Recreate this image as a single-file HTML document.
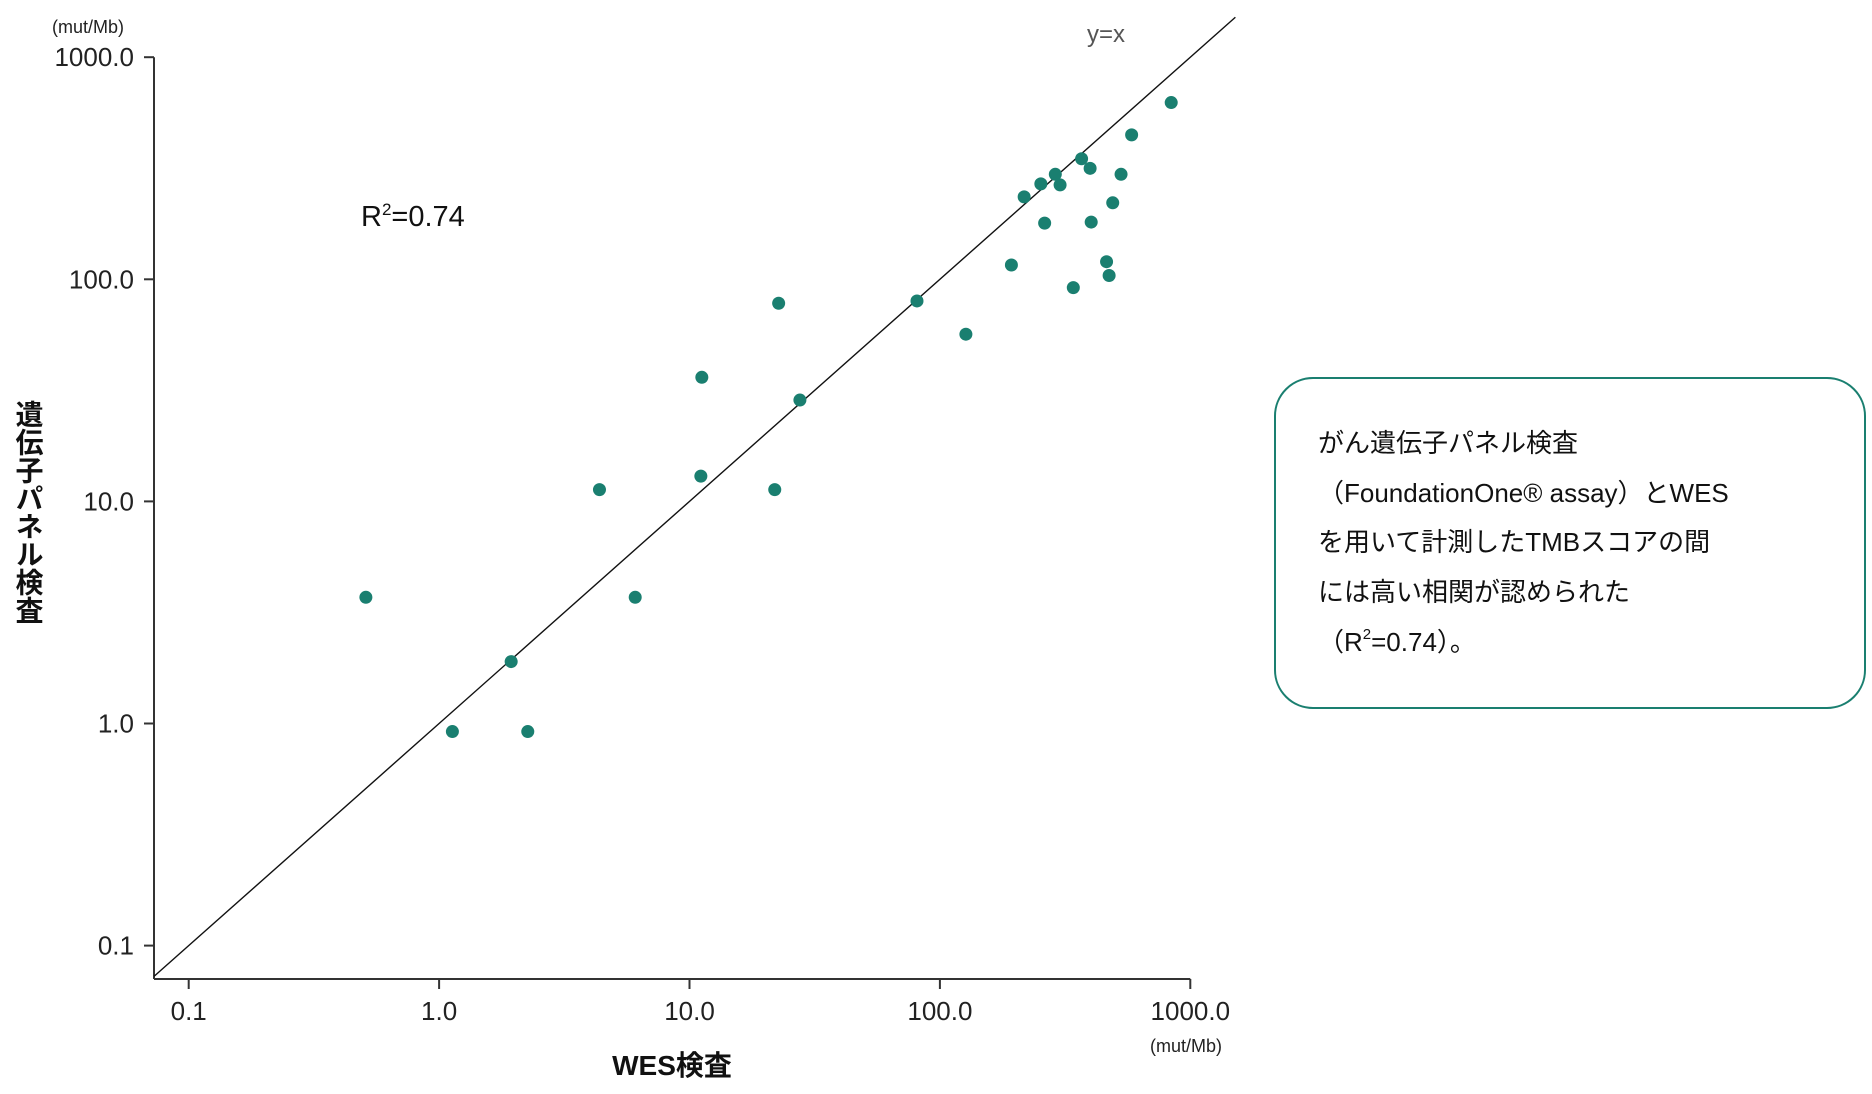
<!DOCTYPE html>
<html><head><meta charset="utf-8"><style>
html,body{margin:0;padding:0;background:#fff;}
svg{display:block;font-family:"Liberation Sans","Noto Sans CJK JP",sans-serif;}
</style></head><body>
<svg id="chart" width="1872" height="1094" viewBox="0 0 1872 1094" xmlns="http://www.w3.org/2000/svg">
<g id="axes"></g>
<g id="marks"></g>
<text x="88" y="33" font-size="18" text-anchor="middle" fill="#222">(mut/Mb)</text>
<text x="1186" y="1052" font-size="18" text-anchor="middle" fill="#222">(mut/Mb)</text>
<text x="672" y="1075" font-size="28" font-weight="bold" text-anchor="middle" fill="#111">WES検査</text>
<text x="28" y="400" font-size="28" font-weight="bold" fill="#111" style="writing-mode:vertical-rl;glyph-orientation-vertical:0" transform="translate(0,0)">遺伝子パネル検査</text>
<text x="361" y="226" font-size="29" fill="#111">R<tspan font-size="17" dy="-11">2</tspan><tspan dy="11">=0.74</tspan></text>
<text x="1106" y="42" font-size="24" text-anchor="middle" fill="#555">y=x</text>
<g>
<rect x="1275" y="378" width="590" height="330" rx="38" ry="38" fill="#fff" stroke="#1a7f70" stroke-width="2"/>
<g font-size="26" fill="#111">
<text x="1318" y="452">がん遺伝子パネル検査</text>
<text x="1318" y="502">（FoundationOne® assay）とWES</text>
<text x="1318" y="551">を用いて計測したTMBスコアの間</text>
<text x="1318" y="601">には高い相関が認められた</text>
<text x="1318" y="651">（R<tspan font-size="15" dy="-12">2</tspan><tspan dy="12">=0.74）。</tspan></text>
</g></g>
</svg>
<script>
const xTicks=[0.1,1,10,100,1000];
const yTicks=[0.1,1,10,100,1000];
const xTickLabels=["0.1","1.0","10.0","100.0","1000.0"];
const yTickLabels=["0.1","1.0","10.0","100.0","1000.0"];
const wesValues=[0.51,1.13,1.94,2.26,4.37,6.07,11.1,11.2,21.9,22.7,27.6,81,127,193,217,253,262,289,302,341,368,398,402,463,474,490,529,583,839];
const panelValues=[3.7,0.92,1.9,0.92,11.3,3.7,13,36.2,11.3,78,28.6,79.9,56.6,116,235,269,179,297,266,91.7,349,316,181,120,104,221,297,447,625];
const NS="http://www.w3.org/2000/svg";
const X0=188.7,XD=250.4,Y0=945.6,YD=222.1;
function sx(v){return X0+(Math.log10(v)+1)*XD;}
function sy(v){return Y0-(Math.log10(v)+1)*YD;}
function mk(tag,attrs,parent){const e=document.createElementNS(NS,tag);for(const k in attrs)e.setAttribute(k,attrs[k]);parent.appendChild(e);return e;}
const axes=document.getElementById('axes');
const axisX=154,axisY=979;
let yl=mk('line',{x1:axisX,y1:sy(1000),x2:axisX,y2:axisY,stroke:'#333','stroke-width':2},axes);


let xl=mk('line',{x1:axisX,y1:axisY,x2:sx(1000),y2:axisY,stroke:'#333','stroke-width':2},axes);


yTicks.forEach((v,i)=>{
 const t=mk('line',{x1:axisX-10,y1:sy(v),x2:axisX,y2:sy(v),stroke:'#333','stroke-width':2},axes);
 
 
 const l=mk('text',{x:134,y:sy(v)+9,'font-size':26,'text-anchor':'end',fill:'#222'},axes);
 
 
 l.textContent=yTickLabels[i];
});
xTicks.forEach((v,i)=>{
 const t=mk('line',{x1:sx(v),y1:axisY,x2:sx(v),y2:axisY+10,stroke:'#333','stroke-width':2},axes);
 
 
 const l=mk('text',{x:sx(v),y:1020,'font-size':26,'text-anchor':'middle',fill:'#222'},axes);
 
 
 l.textContent=xTickLabels[i];
});
const lo=Math.pow(10,-1.138),hi=Math.pow(10,3.18);
const idl=mk('line',{x1:sx(lo),y1:sy(lo),x2:sx(hi),y2:sy(hi),stroke:'#111','stroke-width':1.4},axes);


const marks=document.getElementById('marks');
wesValues.forEach((v,i)=>{
 const c=mk('circle',{cx:sx(v),cy:sy(panelValues[i]),r:6.5,fill:'#1a7f70'},marks);
 
 
});
</script>
</body></html>
